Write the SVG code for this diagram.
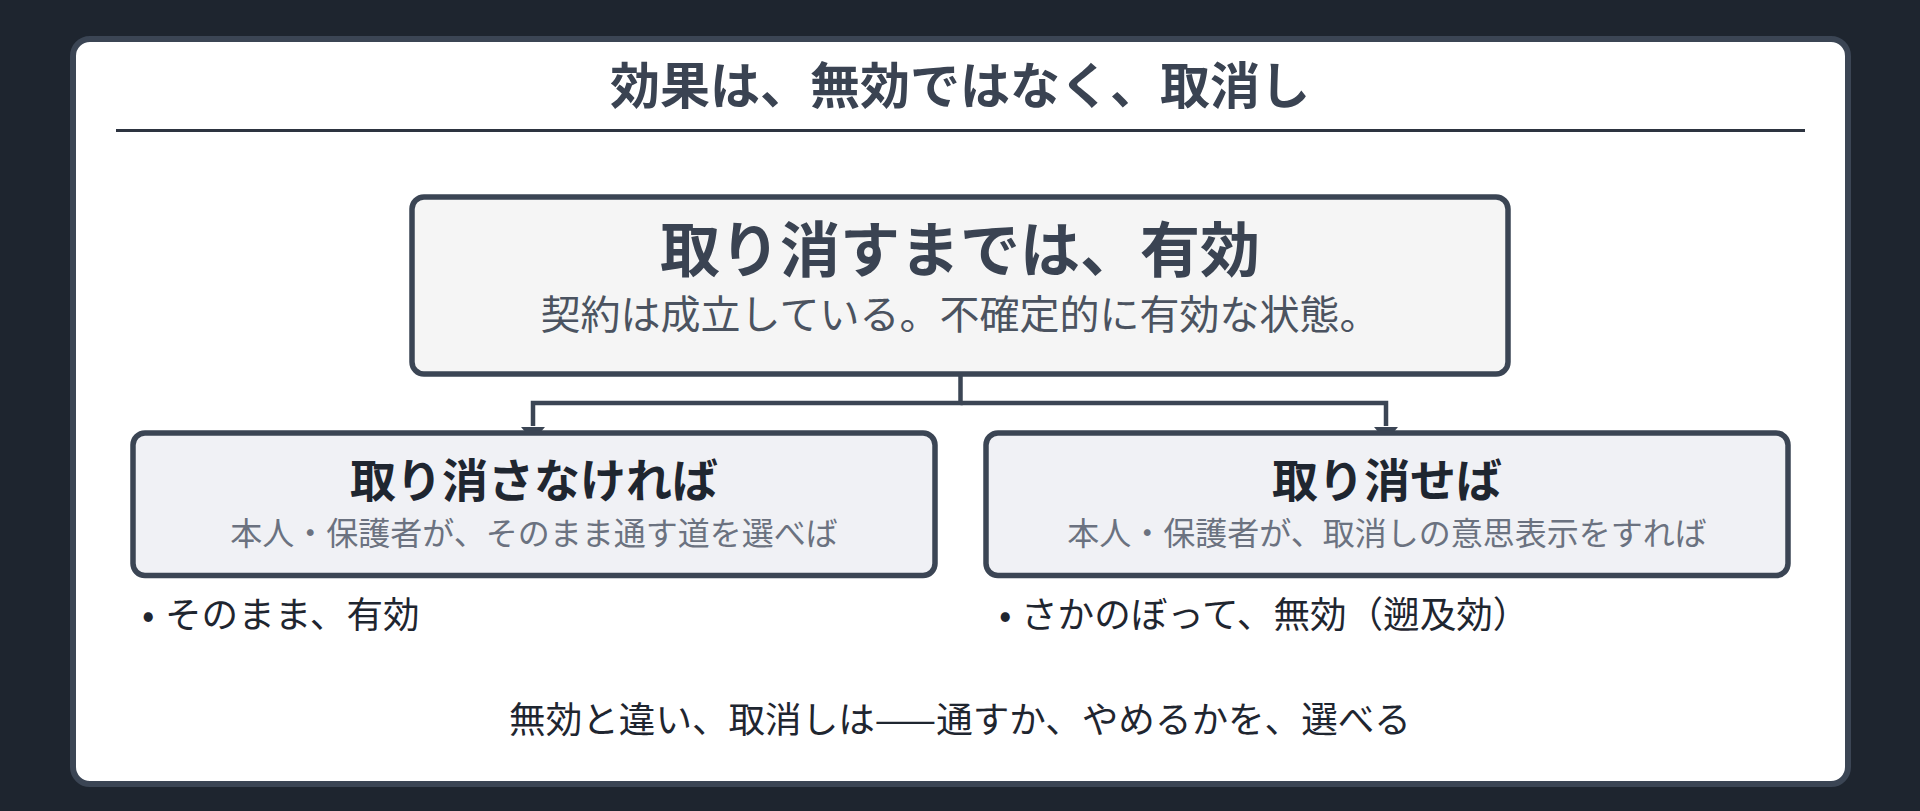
<svg xmlns="http://www.w3.org/2000/svg" width="1920" height="811" viewBox="0 0 1920 811">
  <defs>
    <style>
      text { font-family: "Noto Sans CJK JP", "Noto Sans", sans-serif; }
      .title { font-size: 50px; font-weight: 700; fill: #3a4352; text-anchor: middle; }
      .main-h { font-size: 60px; font-weight: 700; fill: #3a4352; text-anchor: middle; }
      .main-s { font-size: 40px; font-weight: 400; fill: #4b5360; text-anchor: middle; }
      .child-h { font-size: 46px; font-weight: 700; fill: #1f2630; text-anchor: middle; }
      .child-s { font-size: 32px; font-weight: 400; fill: #6b7280; text-anchor: middle; }
      .bullet { font-size: 36.6px; font-weight: 400; fill: #1f2630; }
      .note { font-size: 36.6px; font-weight: 400; fill: #1f2630; text-anchor: middle; }
      .box { stroke: #3b4554; stroke-width: 5.5; }
      .conn { fill: none; stroke: #3b4554; stroke-width: 4.5; stroke-linejoin: miter; stroke-linecap: butt; }
      .head { fill: #3b4554; }
    </style>
  </defs>

  <rect x="0" y="0" width="1920" height="811" fill="#1e252f"/>

  <g id="card">
    <rect x="73" y="39" width="1775" height="745" rx="17" fill="#ffffff" stroke="#3b4554" stroke-width="6"/>
  </g>

  <g id="title">
    <text class="title" x="960" y="104">効果は、無効ではなく、取消し</text>
    <line x1="116" y1="130.5" x2="1805" y2="130.5" stroke="#2d3440" stroke-width="3"/>
  </g>

  <g id="connectors">
    <path class="conn" d="M960.5,374 L960.5,403 L533,403 L533,426"/>
    <path class="conn" d="M960.5,403 L1386,403 L1386,426"/>
    <path class="head" d="M521,427 L545,427 L533,441 Z"/>
    <path class="head" d="M1374,427 L1398,427 L1386,441 Z"/>
  </g>

  <g id="node-main">
    <rect class="box" x="412" y="197" width="1096" height="177" rx="12" fill="#f5f5f5"/>
    <text class="main-h" x="960" y="272">取り消すまでは、有効</text>
    <text class="main-s" x="960" y="329">契約は成立している。不確定的に有効な状態。</text>
  </g>

  <g id="node-keep">
    <rect class="box" x="133" y="433" width="802" height="142.5" rx="12" fill="#f0f1f5"/>
    <text class="child-h" x="534" y="497">取り消さなければ</text>
    <text class="child-s" x="534" y="545">本人・保護者が、そのまま通す道を選べば</text>
  </g>

  <g id="node-cancel">
    <rect class="box" x="986" y="433" width="802" height="142.5" rx="12" fill="#f0f1f5"/>
    <text class="child-h" x="1387" y="497">取り消せば</text>
    <text class="child-s" x="1387" y="545">本人・保護者が、取消しの意思表示をすれば</text>
  </g>

  <g id="result-keep">
    <text class="bullet" y="628"><tspan x="142">•</tspan><tspan x="165">そのまま、有効</tspan></text>
  </g>

  <g id="result-cancel">
    <text class="bullet" y="628"><tspan x="999">•</tspan><tspan x="1021">さかのぼって、無効（遡及効）</tspan></text>
  </g>

  <g id="note">
    <text class="note" x="960" y="733">無効と違い、取消しは——通すか、やめるかを、選べる</text>
  </g>
</svg>
